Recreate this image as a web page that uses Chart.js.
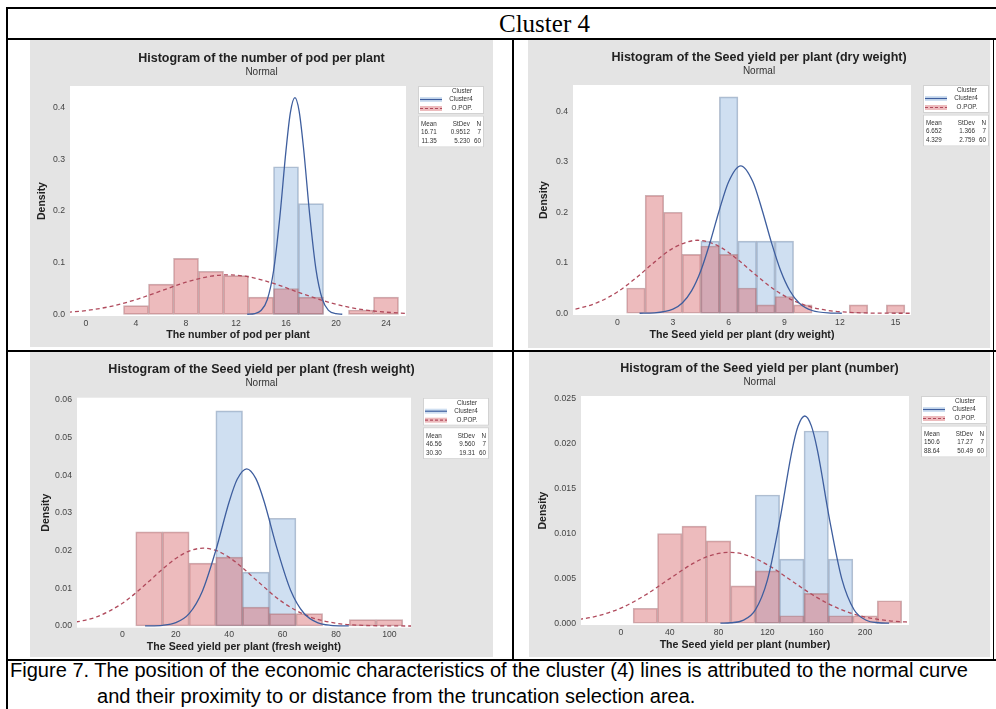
<!DOCTYPE html>
<html>
<head>
<meta charset="utf-8">
<script src="https://cdn.jsdelivr.net/npm/chart.js@4.4.0/dist/chart.umd.min.js"></script>
<style>
  body { margin: 0; background: #fff; width: 996px; height: 709px; overflow: hidden; position: relative; }
  .ln { position: absolute; background: #000; }
  .panel { position: absolute; background: #e4e4e4; }
  .panel canvas { display: block; }
  #head { position: absolute; left: 499px; top: 11px; font: 25px "Liberation Serif", "Times New Roman", serif; line-height: 25px; color: #000; }
  .cap { position: absolute; font: 20px "Liberation Sans Narrow", "Liberation Sans", sans-serif; line-height: 26px; color: #000; white-space: nowrap; transform-origin: 0 0; }
</style>
</head>
<body>
<div class="ln" style="left:6px;top:7px;width:990px;height:2px"></div>
<div class="ln" style="left:6px;top:7px;width:2px;height:702px"></div>
<div class="ln" style="left:6px;top:38px;width:990px;height:2px"></div>
<div class="ln" style="left:6px;top:350px;width:990px;height:2px"></div>
<div class="ln" style="left:6px;top:659px;width:990px;height:2px"></div>
<div class="ln" style="left:512px;top:38px;width:2px;height:622px"></div>
<div class="ln" style="left:993px;top:38px;width:1px;height:622px"></div>
<div id="head">Cluster 4</div>

<div class="panel" style="left:30px;top:40px;width:463px;height:307px"><canvas id="c1" width="463" height="307"></canvas></div>
<div class="panel" style="left:528px;top:40px;width:462px;height:308px"><canvas id="c2" width="462" height="308"></canvas></div>
<div class="panel" style="left:30px;top:352px;width:463px;height:305px"><canvas id="c3" width="463" height="305"></canvas></div>
<div class="panel" style="left:529px;top:352px;width:461px;height:305px"><canvas id="c4" width="461" height="305"></canvas></div>

<div class="cap" id="cap1" style="left:10px;top:657px">Figure 7. The position of the economic characteristics of the cluster (4) lines is attributed to the normal curve</div>
<div class="cap" id="cap2" style="left:97px;top:683px">and their proximity to or distance from the truncation selection area.</div>

<script>
// number of pod per plant
const podBins = [4, 6, 8, 10, 12, 14, 16, 18, 20, 22, 24];
const podPop = [0.0167, 0.0583, 0.1083, 0.0833, 0.075, 0.0333, 0.05, 0.0333, 0, 0.0083, 0.0333];
const podClusterBins = [16, 18];
const podCluster = [0.2857, 0.2143];
const podClusterCurveX = [12.9, 13.5, 14, 14.5, 15, 15.5, 16, 16.35, 16.71, 17.05, 17.4, 17.9, 18.4, 18.9, 19.4, 20, 20.5];
const podClusterCurveY = [0.0001, 0.0014, 0.0073, 0.0282, 0.0833, 0.1868, 0.3174, 0.3904, 0.4194, 0.3934, 0.3224, 0.1918, 0.0866, 0.0297, 0.0077, 0.0011, 0.0001];
const podPopCurveX = [-2, 0, 2, 4, 6, 8, 10, 11.35, 13, 15, 17, 19, 21, 23, 25, 26];
const podPopCurveY = [0.0029, 0.0072, 0.0154, 0.0284, 0.0452, 0.0621, 0.0738, 0.0763, 0.0726, 0.0598, 0.0426, 0.0262, 0.0139, 0.0064, 0.0025, 0.0015];
const podXTicks = [0, 4, 8, 12, 16, 20, 24];
const podYTicks = [0, 0.1, 0.2, 0.3, 0.4];
const podMean = ['16.71', '11.35'];
const podSd = ['0.9512', '5.230'];
const podN = ['7', '60'];

// seed yield per plant (dry weight)
const dryBins = [1, 2, 3, 4, 5, 6, 7, 8, 9, 10, 11, 12, 13, 14, 15];
const dryPop = [0.05, 0.2333, 0.2, 0.1167, 0.1333, 0.1167, 0.05, 0.0167, 0.0333, 0.0167, 0, 0, 0.0167, 0, 0.0167];
const dryClusterBins = [5, 6, 7, 8, 9];
const dryCluster = [0.1429, 0.4286, 0.1429, 0.1429, 0.1429];
const dryClusterCurveX = [1.2, 2, 3, 3.5, 4, 4.5, 5, 5.5, 6, 6.652, 7.3, 7.8, 8.3, 8.8, 9.3, 9.8, 10.5, 11.5, 12.1];
const dryClusterCurveY = [0.0001, 0.0009, 0.0082, 0.0204, 0.0444, 0.0844, 0.1405, 0.2046, 0.2606, 0.292, 0.2609, 0.2051, 0.141, 0.0848, 0.0446, 0.0205, 0.0055, 0.0005, 0.0001];
const dryPopCurveX = [-3, -2, -1, 0, 1, 2, 3, 4.329, 5.5, 6.5, 7.5, 8.5, 9.5, 10.5, 11.5, 12.5, 13.5, 14.5, 16];
const dryPopCurveY = [0.0043, 0.0104, 0.0224, 0.0422, 0.0698, 0.1013, 0.1288, 0.1446, 0.1321, 0.1061, 0.0747, 0.0461, 0.025, 0.0119, 0.0049, 0.0018, 0.0006, 0.0002, 0];
const dryXTicks = [0, 3, 6, 9, 12, 15];
const dryYTicks = [0, 0.1, 0.2, 0.3, 0.4];
const dryMean = ['6.652', '4.329'];
const drySd = ['1.366', '2.759'];
const dryN = ['7', '60'];

// seed yield per plant (fresh weight)
const freshBins = [10, 20, 30, 40, 50, 60, 70, 80, 90, 100];
const freshPop = [0.025, 0.025, 0.0167, 0.0183, 0.005, 0.0033, 0.0033, 0, 0.0017, 0.0017];
const freshClusterBins = [40, 50, 60];
const freshCluster = [0.0571, 0.0143, 0.0286];
const freshClusterCurveX = [8.5, 15, 20, 25, 30, 35, 40, 43, 46.56, 50, 53, 58, 63, 68, 73, 78, 84.8];
const freshClusterCurveY = [0.00002, 0.00018, 0.00088, 0.00328, 0.00931, 0.02009, 0.03298, 0.03894, 0.04173, 0.03911, 0.03326, 0.02039, 0.00951, 0.00338, 0.00091, 0.00019, 0.00002];
const freshPopCurveX = [-20, -10, 0, 10, 15, 20, 25, 30.3, 35, 40, 45, 50, 60, 70, 80, 90, 100, 110];
const freshPopCurveY = [0.00069, 0.00234, 0.00603, 0.01189, 0.01509, 0.01792, 0.0199, 0.02066, 0.02006, 0.01821, 0.01546, 0.01228, 0.00633, 0.0025, 0.00075, 0.00017, 0.00003, 0];
const freshXTicks = [0, 20, 40, 60, 80, 100];
const freshYTicks = [0, 0.01, 0.02, 0.03, 0.04, 0.05, 0.06];
const freshMean = ['46.56', '30.30'];
const freshSd = ['9.560', '19.31'];
const freshN = ['7', '60'];

// seed yield per plant (number)
const numBins = [20, 40, 60, 80, 100, 120, 140, 160, 180, 200, 220];
const numPop = [0.00167, 0.01, 0.01083, 0.00917, 0.00417, 0.00583, 0.00083, 0.00333, 0.00083, 0.00083, 0.0025];
const numClusterBins = [120, 140, 160, 180];
const numCluster = [0.01429, 0.00714, 0.02143, 0.00714];
const numClusterCurveX = [81.5, 90, 100, 110, 120, 130, 140, 145, 150.6, 156, 161, 171, 181, 191, 201, 211, 219.7];
const numClusterCurveY = [0.000002, 0.00005, 0.00032, 0.00146, 0.00481, 0.01134, 0.01913, 0.02192, 0.0231, 0.022, 0.01927, 0.0115, 0.00491, 0.0015, 0.00033, 0.00005, 0.000002];
const numPopCurveX = [-40, -20, 0, 20, 40, 60, 75, 88.64, 102, 120, 140, 160, 180, 200, 220, 240];
const numPopCurveY = [0.00031, 0.00078, 0.00169, 0.00314, 0.00497, 0.00673, 0.00762, 0.0079, 0.00763, 0.00652, 0.00471, 0.00291, 0.00154, 0.00069, 0.00027, 0.00009];
const numXTicks = [0, 40, 80, 120, 160, 200];
const numYTicks = [0, 0.005, 0.01, 0.015, 0.02, 0.025];
const numMean = ['150.6', '88.64'];
const numSd = ['17.27', '50.49'];
const numN = ['7', '60'];

const FONT = '"Liberation Sans", Arial, sans-serif';
const RED_FILL = 'rgba(216,104,108,0.45)';
const RED_EDGE = 'rgba(165,115,120,0.55)';
const BLUE_FILL = 'rgba(140,178,222,0.42)';
const BLUE_EDGE = 'rgba(120,140,170,0.55)';
const BLUE_LINE = '#3e5e9e';
const RED_LINE = '#b04a5c';

// white plot area + the Minitab style legend / statistics boxes
const statBox = {
  id: 'statBox',
  beforeDraw(chart) {
    const {ctx, chartArea: a} = chart;
    ctx.save();
    ctx.fillStyle = '#fff';
    ctx.fillRect(a.left, a.top, a.width, a.height);
    ctx.restore();
  },
  afterDraw(chart, args, o) {
    const {ctx, chartArea: a} = chart;
    const x = a.right + 12, w = 66;
    let y = a.top;
    const txt = (s, tx, ty) => ctx.fillText(s, tx, ty, ctx.measureText(s).width * 0.9);
    ctx.save();
    ctx.fillStyle = '#fff';
    ctx.strokeStyle = '#d2d2d2';
    ctx.lineWidth = 1;
    ctx.fillRect(x, y, w, 28);
    ctx.strokeRect(x + 0.5, y + 0.5, w - 1, 27);
    // symbols
    ctx.fillStyle = BLUE_FILL;
    ctx.fillRect(x + 2, y + 11, 22, 5);
    ctx.strokeStyle = BLUE_LINE;
    ctx.lineWidth = 1.2;
    ctx.beginPath(); ctx.moveTo(x + 2, y + 13.5); ctx.lineTo(x + 24, y + 13.5); ctx.stroke();
    ctx.fillStyle = RED_FILL;
    ctx.fillRect(x + 2, y + 20, 22, 5);
    ctx.strokeStyle = RED_LINE;
    ctx.setLineDash([3, 2]);
    ctx.beginPath(); ctx.moveTo(x + 2, y + 22.5); ctx.lineTo(x + 24, y + 22.5); ctx.stroke();
    ctx.setLineDash([]);
    ctx.font = '7px ' + FONT;
    ctx.fillStyle = '#333';
    ctx.textBaseline = 'middle';
    ctx.textAlign = 'center';
    txt('Cluster', x + 44, y + 5);
    txt('Cluster4', x + 43, y + 13.5);
    txt('O.POP.', x + 44, y + 22.5);

    // statistics table
    y += 29.5;
    ctx.fillStyle = '#fff';
    ctx.fillRect(x, y, w, 32);
    ctx.strokeStyle = '#d2d2d2';
    ctx.lineWidth = 1;
    ctx.strokeRect(x + 0.5, y + 0.5, w - 1, 31);
    const rows = [['Mean', 'StDev', 'N']].concat(o.mean.map((m, i) => [m, o.sd[i], o.n[i]]));
    const colW = [0, 1, 2].map(c => Math.max(...rows.map(r => ctx.measureText(r[c]).width * 0.9)));
    const c1 = x + 3 + colW[0];
    const c3 = x + w - 3;
    const c2 = c3 - colW[2] - 4;
    ctx.fillStyle = '#333';
    ctx.textAlign = 'right';
    rows.forEach((r, i) => {
      const ry = y + 8.4 + i * 8.6;
      txt(r[0], c1, ry);
      txt(r[1], c2, ry);
      txt(r[2], c3, ry);
    });
    ctx.restore();
  }
};
Chart.register(statBox);

function makeChart(id, p) {
  const cv = document.getElementById(id);
  const W = cv.width, H = cv.height;
  const bars = (xs, ys) => xs.map((x, i) => ({x: x, y: ys[i]})).filter(d => d.y > 0);
  const pts = (xs, ys) => xs.map((x, i) => ({x: x, y: ys[i]}));
  const barStyle = {borderWidth: 1, borderSkipped: false, grouped: false, barPercentage: 1, categoryPercentage: 1, xAxisID: 'x', yAxisID: 'y'};
  const lineStyle = {type: 'line', pointRadius: 0, borderWidth: 1.3, fill: false, cubicInterpolationMode: 'monotone', order: 0, xAxisID: 'x', yAxisID: 'y'};
  return new Chart(cv, {
    type: 'bar',
    data: {
      datasets: [
        Object.assign({data: pts(p.clusterCurveX, p.clusterCurveY), borderColor: BLUE_LINE}, lineStyle),
        Object.assign({data: pts(p.popCurveX, p.popCurveY), borderColor: RED_LINE, borderDash: [4, 3]}, lineStyle),
        Object.assign({data: bars(p.popBins, p.pop), backgroundColor: RED_FILL, borderColor: RED_EDGE, order: 1}, barStyle),
        Object.assign({data: bars(p.clusterBins, p.cluster), backgroundColor: BLUE_FILL, borderColor: BLUE_EDGE, order: 2}, barStyle)
      ]
    },
    options: {
      responsive: false,
      animation: false,
      devicePixelRatio: 1,
      layout: {padding: 0},
      plugins: {
        legend: {display: false},
        tooltip: {enabled: false},
        title: {display: true, text: p.title, color: '#222', font: {family: FONT, size: 12.5, weight: 'bold'},
                padding: {top: p.titleTop, bottom: 0}},
        subtitle: {display: true, text: 'Normal', color: '#333', font: {family: FONT, size: 10},
                   padding: {top: 0, bottom: p.area.top - p.titleTop - 27}},
        statBox: {mean: p.mean, sd: p.sd, n: p.n}
      },
      scales: {
        x: {
          type: 'linear', min: p.xMin, max: p.xMax, offset: false,
          grid: {display: false, drawTicks: false}, border: {display: false},
          afterBuildTicks: s => { s.ticks = p.xTicks.map(v => ({value: v})); },
          afterFit: s => { s.height = H - p.area.bottom; },
          ticks: {color: '#444', font: {family: FONT, size: 8.7}, padding: 2, maxRotation: 0, autoSkip: false},
          title: {display: true, text: p.xTitle, color: '#222', font: {family: FONT, size: 10.6, weight: 'bold'},
                  padding: {top: 0, bottom: p.xTitleBottom}}
        },
        y: {
          type: 'linear', position: 'left', min: p.yMin, max: p.yMax,
          grid: {display: false, drawTicks: false}, border: {display: false},
          afterBuildTicks: s => { s.ticks = p.yTicks.map(v => ({value: v})); },
          afterFit: s => { s.width = p.area.left; },
          ticks: {color: '#444', font: {family: FONT, size: 8.7}, padding: 5, callback: v => v.toFixed(p.yDec)},
          title: {display: true, text: 'Density', color: '#222', font: {family: FONT, size: 10.5, weight: 'bold'},
                  padding: {top: p.yTitleLeft, bottom: 0}}
        },
        pad: {
          type: 'linear', axis: 'y', position: 'right',
          grid: {display: false, drawTicks: false}, border: {display: false}, ticks: {display: false},
          afterFit: s => { s.width = W - p.area.right; }
        }
      }
    }
  });
}

makeChart('c1', {
  title: 'Histogram of the number of pod per plant', xTitle: 'The number of pod per plant',
  popBins: podBins, pop: podPop, clusterBins: podClusterBins, cluster: podCluster,
  clusterCurveX: podClusterCurveX, clusterCurveY: podClusterCurveY, popCurveX: podPopCurveX, popCurveY: podPopCurveY,
  xTicks: podXTicks, yTicks: podYTicks, yDec: 1, mean: podMean, sd: podSd, n: podN,
  xMin: -1.28, xMax: 25.6, yMin: -0.0033, yMax: 0.442,
  area: {left: 40, top: 46, right: 376, bottom: 276}, titleTop: 11.2, xTitleBottom: 5.8, yTitleLeft: 6
});
makeChart('c2', {
  title: 'Histogram of the Seed yield per plant (dry weight)', xTitle: 'The Seed yield per plant (dry weight)',
  popBins: dryBins, pop: dryPop, clusterBins: dryClusterBins, cluster: dryCluster,
  clusterCurveX: dryClusterCurveX, clusterCurveY: dryClusterCurveY, popCurveX: dryPopCurveX, popCurveY: dryPopCurveY,
  xTicks: dryXTicks, yTicks: dryYTicks, yDec: 1, mean: dryMean, sd: drySd, n: dryN,
  xMin: -2.39, xMax: 15.83, yMin: -0.0034, yMax: 0.452,
  area: {left: 45, top: 45, right: 383, bottom: 275}, titleTop: 9.8, xTitleBottom: 6.5, yTitleLeft: 9.4
});
makeChart('c3', {
  title: 'Histogram of the Seed yield per plant (fresh weight)', xTitle: 'The Seed yield per plant (fresh weight)',
  popBins: freshBins, pop: freshPop, clusterBins: freshClusterBins, cluster: freshCluster,
  clusterCurveX: freshClusterCurveX, clusterCurveY: freshClusterCurveY, popCurveX: freshPopCurveX, popCurveY: freshPopCurveY,
  xTicks: freshXTicks, yTicks: freshYTicks, yDec: 2, mean: freshMean, sd: freshSd, n: freshN,
  xMin: -17, xMax: 108.1, yMin: -0.00045, yMax: 0.0606,
  area: {left: 47, top: 45.7, right: 381, bottom: 275.7}, titleTop: 9.8, xTitleBottom: 3.4, yTitleLeft: 9.4
});
makeChart('c4', {
  title: 'Histogram of the Seed yield per plant (number)', xTitle: 'The Seed yield per plant (number)',
  popBins: numBins, pop: numPop, clusterBins: numClusterBins, cluster: numCluster,
  clusterCurveX: numClusterCurveX, clusterCurveY: numClusterCurveY, popCurveX: numPopCurveX, popCurveY: numPopCurveY,
  xTicks: numXTicks, yTicks: numYTicks, yDec: 3, mean: numMean, sd: numSd, n: numN,
  xMin: -32.7, xMax: 236, yMin: -0.0002, yMax: 0.02533,
  area: {left: 52, top: 44, right: 380, bottom: 273}, titleTop: 8.8, xTitleBottom: 5.3, yTitleLeft: 7.4
});

// fit the caption line to the width it takes in the figure
const cap1 = document.getElementById('cap1');
const capScale = 958 / cap1.getBoundingClientRect().width;
document.querySelectorAll('.cap').forEach(el => { el.style.transform = 'scaleX(' + capScale + ')'; });
</script>
</body>
</html>
